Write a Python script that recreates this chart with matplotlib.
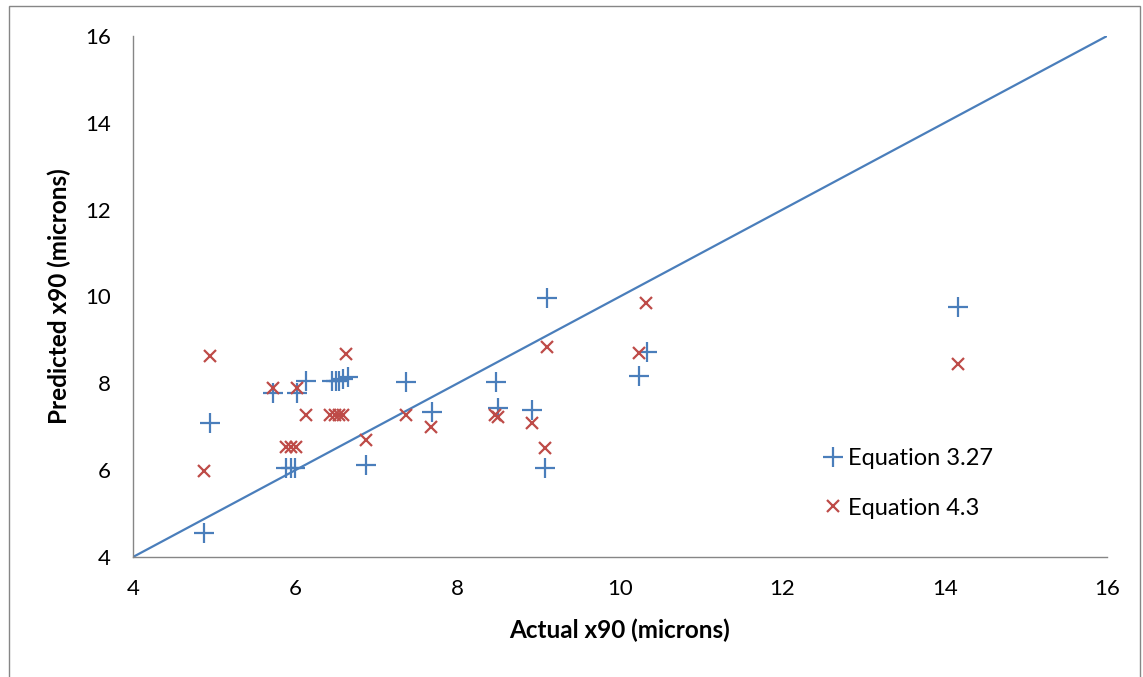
import matplotlib.pyplot as plt
from matplotlib.patches import Rectangle

plt.rcParams['font.family'] = ['Lato', 'DejaVu Sans']

# Equation 3.27 (blue plus)
eq327_x = [4.87, 4.95, 5.72, 6.02, 6.13, 6.45, 6.50, 6.54, 6.59, 6.65,
           5.89, 5.95, 6.00, 6.87, 7.36, 7.68, 8.47, 8.50, 8.91, 9.08,
           9.10, 10.23, 10.33, 14.17]
eq327_y = [4.56, 7.08, 7.78, 7.78, 8.05, 8.05, 8.05, 8.05, 8.09, 8.14,
           6.06, 6.06, 6.06, 6.13, 8.04, 7.33, 8.04, 7.44, 7.39, 6.04,
           9.96, 8.17, 8.73, 9.76]

# Equation 4.3 (red cross)
eq43_x = [4.87, 4.95, 5.72, 6.02, 6.13, 6.43, 6.49, 6.54, 6.59, 6.63,
          5.88, 5.95, 6.01, 6.87, 7.36, 7.67, 8.46, 8.50, 8.91, 9.08,
          9.10, 10.23, 10.32, 14.17]
eq43_y = [5.98, 8.63, 7.90, 7.90, 7.26, 7.26, 7.26, 7.26, 7.26, 8.68,
          6.54, 6.54, 6.54, 6.69, 7.27, 7.00, 7.27, 7.23, 7.08, 6.50,
          8.84, 8.69, 9.86, 8.44]

# 1:1 line
line_x = [4, 16]
line_y = [4, 16]

ticks = [4, 6, 8, 10, 12, 14, 16]

blue = '#4a7ebb'
red = '#be4b48'
grey = '#868686'

fig = plt.figure(figsize=(11.43, 6.77), dpi=100)
ax = fig.add_axes([133 / 1143, 120 / 677, 974 / 1143, 521 / 677])

ax.plot(line_x, line_y, color=blue, linewidth=1.6, zorder=2)
ax.plot(eq327_x, eq327_y, linestyle='none', marker='+', markersize=14,
        markeredgewidth=1.6, color=blue, label='Equation 3.27', zorder=3)
ax.plot(eq43_x, eq43_y, linestyle='none', marker='x', markersize=8,
        markeredgewidth=1.6, color=red, label='Equation 4.3', zorder=3)

ax.set_xlim(4, 16)
ax.set_ylim(4, 16)
ax.set_xticks(ticks)
ax.set_yticks(ticks)
ax.tick_params(length=0, labelsize=16, pad=16)

for side in ['top', 'right']:
    ax.spines[side].set_visible(False)
for side in ['left', 'bottom']:
    ax.spines[side].set_color(grey)
    ax.spines[side].set_linewidth(1.0)

ax.set_xlabel('Actual x90 (microns)', fontsize=17.5, fontweight='bold', labelpad=14)
ax.set_ylabel('Predicted x90 (microns)', fontsize=17.5, fontweight='bold', labelpad=10)

leg = ax.legend(loc='upper left', bbox_to_anchor=(802 / 1143, 1 - 427 / 677),
                bbox_transform=fig.transFigure, frameon=False, fontsize=17,
                handlelength=0.8, handletextpad=0.25, labelspacing=1.2)

# outer chart border
fig.patches.append(Rectangle((9 / 1143, -0.01), 1131 / 1143, 1 - 6 / 677 + 0.01,
                             transform=fig.transFigure, fill=False,
                             edgecolor=grey, linewidth=1.0))

fig.savefig('out.png', dpi=100)
